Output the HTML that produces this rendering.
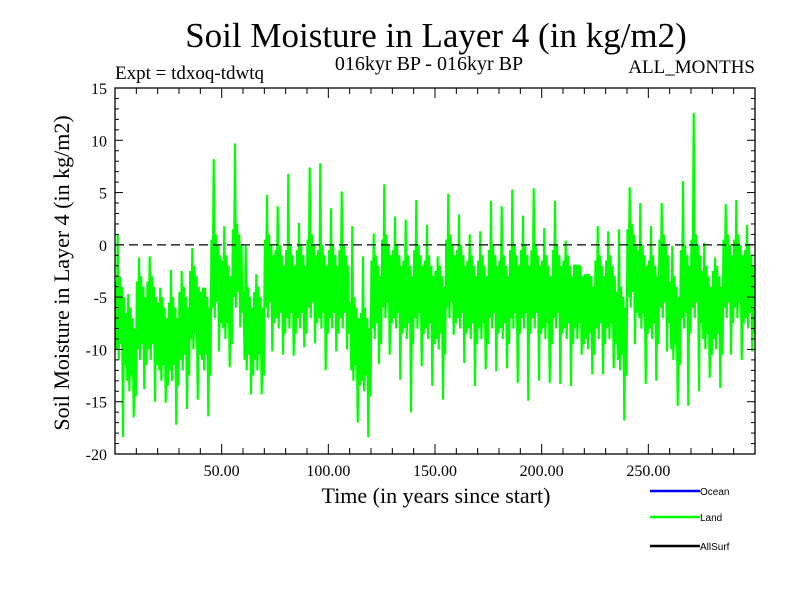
<!DOCTYPE html>
<html><head><meta charset="utf-8"><style>
body{margin:0;background:#fff}
svg{display:block}
text{font-family:"Liberation Serif",serif;fill:#000}
</style></head><body>
<svg id="chart" width="800" height="600">
<text x="436" y="47" font-size="35" text-anchor="middle">Soil Moisture in Layer 4 (in kg/m2)</text>
<text x="429" y="70" font-size="20" text-anchor="middle">016kyr BP - 016kyr BP</text>
<text x="115" y="79" font-size="19">Expt = tdxoq-tdwtq</text>
<text x="755" y="73" font-size="19" text-anchor="end">ALL_MONTHS</text>
<text transform="translate(69,273) rotate(-90)" font-size="22" text-anchor="middle">Soil Moisture in Layer 4 (in kg/m2)</text>
<text x="436" y="503" font-size="22" text-anchor="middle">Time (in years since start)</text>
<g id="plot"></g>
<g>
<line x1="650" y1="491" x2="700" y2="491" stroke="#0000ff" stroke-width="2.5"/>
<text x="700" y="495" font-size="10" style="font-family:'Liberation Sans',sans-serif">Ocean</text>
<line x1="650" y1="517" x2="700" y2="517" stroke="#00ff00" stroke-width="2.5"/>
<text x="700" y="521" font-size="10" style="font-family:'Liberation Sans',sans-serif">Land</text>
<line x1="650" y1="546" x2="700" y2="546" stroke="#000" stroke-width="2.5"/>
<text x="700" y="550" font-size="10" style="font-family:'Liberation Sans',sans-serif">AllSurf</text>
</g>
</svg>
<script>
const binStarts=[0,5,10,15,20,25,30,35,40,45,50,55,60,65,70,75,80,85,90,95,100,105,110,115,120,125,130,135,140,145,150,155,160,165,170,175,180,185,190,195,200,205,210,215,220,225,230,235,240,245,250,255,260,265,270,275,280,285,290,295];
const landHi=[1.0,-4.7,-1.2,-1.1,-4.1,-2.4,-2.5,-0.3,-4.1,8.2,1.8,9.7,-0.1,-2.8,4.8,3.7,6.8,2.1,7.4,7.8,3.5,5.1,1.8,-1.1,1.1,5.8,2.7,2.4,4.3,1.9,-1.1,4.9,2.9,1.0,1.3,4.2,3.7,5.3,2.8,5.4,1.6,4.2,0.4,-1.9,-2.8,1.8,1.3,1.5,5.5,4.0,1.8,4.0,-0.1,6.1,12.6,0.2,-1.2,3.9,4.3,1.9];
const landLo=[-18.4,-16.5,-13.8,-15,-15.1,-17.2,-15.7,-14.8,-16.4,-10.2,-11.7,-7.9,-14.3,-14.3,-10.2,-10.5,-10.6,-9.8,-9.4,-12,-10.2,-10,-17,-18.4,-11.4,-10.5,-12.9,-16,-11.6,-13.5,-14.8,-8.6,-11.3,-13.5,-11.9,-12.1,-11.8,-13.2,-14.9,-13,-13.2,-13.3,-13.5,-10.5,-12.4,-12.4,-11.8,-16.8,-9.5,-13.3,-13,-10.2,-15.4,-15.4,-14,-12.7,-13.7,-10.5,-11,-10.2];
const landMid=[-7,-10,-7,-7,-9,-9,-8,-6,-8,-3,-5,-2,-8,-8,-3,-4,-4,-4,-3,-4,-4,-4,-9,-10,-5,-3,-4,-5,-4,-5,-6,-3,-4,-5,-5,-4,-5,-4,-4,-4,-5,-4,-5,-5,-6,-5,-5,-8,-2,-4,-5,-3,-7,-4,-3,-6,-6,-3,-3,-4];
const yTicks=[15,10,5,0,-5,-10,-15,-20];
const xTicks=[50,100,150,200,250];
const xTickLabels=["50.00","100.00","150.00","200.00","250.00"];
const L=115,R=755,T=88,B=454,X0=0,X1=300,Y0=-20,Y1=15;
const sx=v=>L+(v-X0)/(X1-X0)*(R-L);
const sy=v=>B-(v-Y0)/(Y1-Y0)*(B-T);
const NS="http://www.w3.org/2000/svg";
const g=document.getElementById('plot');
function mk(tag,attrs){const e=document.createElementNS(NS,tag);for(const k in attrs)e.setAttribute(k,attrs[k]);g.appendChild(e);return e;}
// series: dense oscillation around bin mid with spikes to bin extremes
let pts=[];
const spread=[3.5,-3,2.5,-4,4,-2.5,3,-3.5,2,-4.5];
binStarts.forEach((b,i)=>{
  const m=landMid[i];
  for(let k=0;k<10;k++){
    const x=b+k*0.5+0.25;
    let v=m+spread[k];
    if(k===2) v=landHi[i];
    if(k===7) v=landLo[i];
    v=Math.max(landLo[i],Math.min(landHi[i],v));
    pts.push([sx(x),sy(v)]);
  }
});
const line=mk('polyline',{points:pts.map(p=>p[0].toFixed(1)+','+p[1].toFixed(1)).join(' '),fill:'none',stroke:'#00ff00','stroke-width':2.2,'stroke-linejoin':'miter','stroke-miterlimit':2});


// zero line
const z=mk('line',{x1:L,x2:R,y1:sy(0),y2:sy(0),stroke:'#000','stroke-width':1.3,'stroke-dasharray':'9,5'});


// frame
const f=mk('rect',{x:L,y:T,width:R-L,height:B-T,fill:'none',stroke:'#000','stroke-width':1.3});


for(let v=Y0;v<=Y1;v++){
  const len=(v%5===0)?8:4;
  mk('line',{x1:L,x2:L+len,y1:sy(v),y2:sy(v),stroke:'#000'});
  mk('line',{x1:R,x2:R-len,y1:sy(v),y2:sy(v),stroke:'#000'});
}
yTicks.forEach(v=>{
  const t=mk('text',{x:107,y:sy(v)+6,'font-size':16,'text-anchor':'end'});
  t.textContent=String(v);
  
  
});
for(let v=10;v<X1;v+=10){
  const len=(v%50===0)?10:6;
  mk('line',{x1:sx(v),x2:sx(v),y1:B,y2:B-len,stroke:'#000'});
  mk('line',{x1:sx(v),x2:sx(v),y1:T,y2:T+len,stroke:'#000'});
}
xTicks.forEach((v,i)=>{
  const t=mk('text',{x:sx(v),y:476,'font-size':16,'text-anchor':'middle'});
  t.textContent=xTickLabels[i];
  
  
});
</script>
</body></html>
